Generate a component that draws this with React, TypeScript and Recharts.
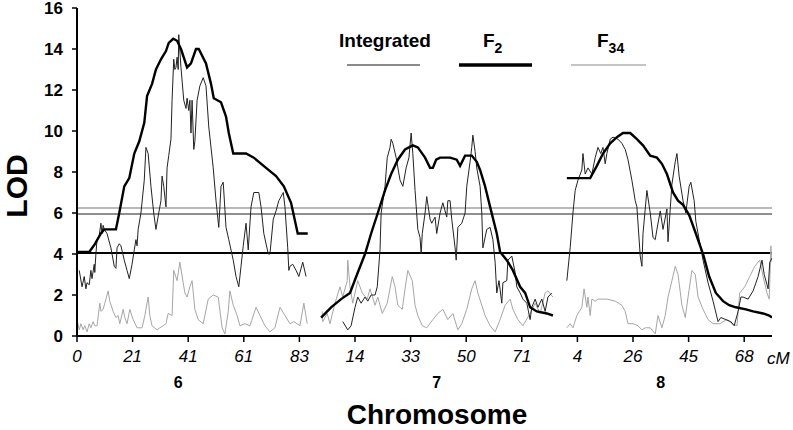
import React from "react";
import { LineChart, Line, XAxis, YAxis, ReferenceLine } from "recharts";

// ---- Data (x = marker-order position on the map axis, one unit per labelled tick; y = LOD) ----
const TICK_LABELS = ["0", "21", "41", "61", "83", "14", "33", "50", "71", "4", "26", "45", "68"];
const CHROMOSOMES = ["6", "7", "8"];
const CHROM_LABEL_POS = [1.82, 6.47, 10.5];
const SERIES_NAMES = ["Integrated", "F2", "F34"];
const THRESHOLD_F2 = 4.05;
const THRESHOLD_A = 6.24;
const THRESHOLD_B = 5.95;

const chr6F2: [number, number][] = [
  [0.0, 4.1], [0.22, 4.1], [0.31, 4.44], [0.43, 5.0], [0.49, 5.2], [0.7, 5.2], [0.76, 6.0], [0.85, 7.3],
  [0.94, 7.7], [1.03, 8.9], [1.12, 9.5], [1.21, 10.4], [1.26, 11.7], [1.35, 12.3], [1.42, 13.0], [1.51, 13.5],
  [1.6, 13.9], [1.65, 14.3], [1.73, 14.5], [1.8, 14.4], [1.87, 14.0], [1.98, 13.1], [2.05, 13.3], [2.14, 14.0],
  [2.19, 14.0], [2.32, 13.3], [2.41, 12.3], [2.46, 11.6], [2.59, 11.4], [2.68, 10.7], [2.73, 9.9], [2.81, 8.9],
  [3.04, 8.9], [3.18, 8.7], [3.4, 8.2], [3.58, 7.8], [3.72, 7.3], [3.85, 6.5], [3.97, 5.0], [4.15, 5.0],
];

const chr6Integrated: [number, number][] = [
  [0.04, 3.2], [0.09, 2.4], [0.13, 2.9], [0.16, 2.3], [0.18, 2.6], [0.22, 2.5], [0.25, 3.2], [0.27, 2.8],
  [0.31, 3.5], [0.32, 3.1], [0.34, 4.0], [0.36, 4.7], [0.4, 4.9], [0.43, 5.5], [0.45, 5.0], [0.47, 5.4],
  [0.49, 5.2], [0.54, 5.0], [0.61, 4.3], [0.67, 3.4], [0.7, 3.3], [0.72, 4.3], [0.76, 4.5], [0.79, 4.4],
  [0.85, 3.7], [0.9, 3.2], [0.94, 2.8], [0.99, 3.5], [1.03, 4.2], [1.06, 4.7], [1.08, 4.4], [1.1, 5.2],
  [1.15, 6.0], [1.21, 7.6], [1.24, 9.2], [1.28, 8.9], [1.33, 7.3], [1.38, 6.0], [1.42, 5.2], [1.47, 6.0],
  [1.51, 6.6], [1.53, 7.8], [1.56, 7.3], [1.6, 6.3], [1.62, 8.2], [1.65, 8.8], [1.69, 9.6], [1.71, 11.5],
  [1.74, 13.5], [1.76, 13.0], [1.78, 13.1], [1.8, 13.6], [1.82, 13.0], [1.83, 14.7], [1.87, 13.1], [1.92, 11.5],
  [1.96, 11.1], [1.98, 11.6], [2.01, 11.0], [2.03, 11.5], [2.05, 9.9], [2.07, 11.5], [2.1, 9.1], [2.12, 9.5],
  [2.16, 11.5], [2.21, 12.2], [2.27, 12.6], [2.32, 12.2], [2.37, 10.2], [2.45, 8.2], [2.5, 6.6], [2.55, 5.3],
  [2.59, 7.3], [2.63, 7.5], [2.68, 5.3], [2.73, 4.7], [2.81, 3.7], [2.86, 2.9], [2.91, 2.4], [2.95, 3.4],
  [2.99, 4.4], [3.04, 5.5], [3.08, 4.2], [3.13, 6.3], [3.18, 7.0], [3.27, 7.0], [3.31, 6.3], [3.36, 5.0],
  [3.44, 4.0], [3.47, 4.0], [3.53, 5.7], [3.58, 6.1], [3.63, 6.6], [3.71, 7.0], [3.74, 6.3], [3.79, 4.3],
  [3.81, 3.2], [3.83, 3.4], [3.88, 3.5], [3.94, 3.2], [3.99, 2.9], [4.06, 3.6], [4.12, 2.9],
];

const chr6F34: [number, number][] = [
  [0.0, 0.8], [0.04, 0.3], [0.07, 0.6], [0.11, 0.3], [0.14, 0.5], [0.18, 0.2], [0.22, 0.6], [0.25, 0.4],
  [0.29, 0.7], [0.32, 0.5], [0.36, 0.5], [0.41, 1.6], [0.43, 1.2], [0.47, 1.3], [0.5, 1.6], [0.56, 2.2],
  [0.59, 1.7], [0.65, 1.2], [0.7, 0.9], [0.74, 1.0], [0.77, 0.6], [0.83, 1.3], [0.86, 0.9], [0.9, 0.6],
  [0.95, 1.3], [1.01, 0.8], [1.08, 0.4], [1.17, 0.4], [1.22, 1.0], [1.28, 1.9], [1.31, 1.0], [1.35, 0.5],
  [1.44, 0.3], [1.49, 0.4], [1.55, 0.5], [1.6, 0.6], [1.64, 1.1], [1.71, 1.0], [1.74, 3.2], [1.8, 2.7],
  [1.85, 3.6], [1.91, 2.6], [1.94, 2.1], [1.98, 1.9], [2.03, 2.4], [2.07, 2.7], [2.12, 1.3], [2.18, 0.8],
  [2.27, 0.6], [2.36, 1.8], [2.45, 2.0], [2.54, 1.9], [2.61, 0.4], [2.66, 0.1], [2.72, 1.2], [2.75, 2.2],
  [2.81, 1.5], [2.88, 1.0], [2.93, 0.5], [3.02, 0.6], [3.11, 0.5], [3.22, 1.4], [3.29, 1.0], [3.38, 0.5],
  [3.47, 0.2], [3.56, 0.4], [3.65, 1.4], [3.74, 1.0], [3.83, 0.6], [3.9, 0.7], [4.01, 0.5], [4.08, 1.6],
  [4.14, 0.6],
];

const chr7F2: [number, number][] = [
  [4.39, 0.9], [4.57, 1.4], [4.75, 1.8], [4.91, 2.1], [5.05, 3.1], [5.18, 4.0], [5.29, 5.0], [5.41, 6.0],
  [5.54, 7.1], [5.65, 7.9], [5.77, 8.6], [5.9, 9.1], [6.04, 9.3], [6.13, 9.2], [6.26, 8.7], [6.35, 8.2],
  [6.4, 8.2], [6.46, 8.6], [6.53, 8.7], [6.71, 8.7], [6.83, 8.6], [6.89, 8.3], [6.98, 8.8], [7.1, 8.8],
  [7.19, 8.5], [7.25, 8.1], [7.34, 7.3], [7.43, 6.3], [7.55, 5.0], [7.61, 4.1], [7.73, 3.7], [7.84, 3.2],
  [7.97, 2.4], [8.06, 2.1], [8.15, 1.4], [8.27, 1.2], [8.45, 1.1], [8.56, 1.0],
];

const chr7Integrated: [number, number][] = [
  [4.78, 0.7], [4.87, 0.3], [4.93, 0.5], [5.0, 1.4], [5.05, 1.9], [5.11, 1.6], [5.18, 1.9], [5.23, 1.7],
  [5.29, 2.0], [5.36, 2.0], [5.4, 2.4], [5.45, 4.2], [5.47, 6.0], [5.54, 7.3], [5.58, 8.7], [5.63, 9.2],
  [5.65, 9.6], [5.68, 9.4], [5.74, 8.7], [5.81, 7.6], [5.86, 7.3], [5.92, 8.2], [5.97, 8.7], [6.01, 9.9],
  [6.04, 8.9], [6.08, 7.1], [6.13, 5.2], [6.17, 4.8], [6.19, 4.0], [6.21, 5.0], [6.26, 6.0], [6.29, 6.8],
  [6.35, 5.7], [6.38, 5.5], [6.44, 5.8], [6.47, 5.0], [6.53, 6.0], [6.58, 6.5], [6.65, 5.8], [6.67, 6.6],
  [6.71, 6.6], [6.74, 5.7], [6.8, 4.3], [6.82, 3.7], [6.85, 5.3], [6.92, 5.5], [6.98, 6.0], [7.01, 7.3],
  [7.07, 8.5], [7.1, 9.2], [7.12, 9.8], [7.16, 9.0], [7.19, 8.2], [7.25, 7.3], [7.28, 6.0], [7.3, 4.3],
  [7.37, 5.2], [7.43, 5.3], [7.48, 4.7], [7.52, 3.6], [7.55, 2.1], [7.59, 2.7], [7.64, 1.6], [7.66, 2.6],
  [7.73, 2.7], [7.75, 3.7], [7.82, 3.9], [7.88, 3.1], [7.91, 2.4], [7.97, 2.1], [8.02, 1.8], [8.09, 1.6],
  [8.15, 0.8], [8.18, 1.4], [8.24, 1.8], [8.29, 1.4], [8.36, 1.8], [8.42, 1.2], [8.47, 1.9], [8.54, 2.1],
];

const chr7F34: [number, number][] = [
  [4.41, 1.2], [4.42, 0.7], [4.5, 1.1], [4.55, 0.6], [4.64, 1.6], [4.73, 2.4], [4.78, 1.9], [4.86, 2.7],
  [4.87, 3.7], [4.91, 2.4], [4.96, 1.6], [5.05, 2.7], [5.13, 2.1], [5.22, 1.8], [5.27, 2.3], [5.36, 1.5],
  [5.41, 1.9], [5.49, 1.1], [5.58, 1.6], [5.67, 2.9], [5.72, 2.4], [5.77, 1.5], [5.85, 1.3], [5.9, 2.3],
  [5.95, 3.2], [6.03, 2.7], [6.08, 1.5], [6.13, 1.0], [6.21, 0.5], [6.29, 0.4], [6.4, 0.8], [6.49, 1.1],
  [6.58, 1.3], [6.67, 0.8], [6.76, 1.1], [6.85, 0.3], [6.92, 0.6], [7.01, 1.3], [7.1, 2.3], [7.16, 2.7],
  [7.21, 2.1], [7.28, 1.5], [7.34, 1.0], [7.43, 0.5], [7.52, 0.2], [7.61, 0.8], [7.7, 1.5], [7.79, 1.8],
  [7.84, 1.3], [7.93, 0.8], [8.02, 0.5], [8.15, 1.1], [8.24, 1.6], [8.33, 1.1], [8.42, 2.1], [8.47, 2.2],
  [8.56, 1.9],
];

const chr8F2: [number, number][] = [
  [8.81, 7.7], [9.23, 7.7], [9.35, 8.3], [9.46, 8.9], [9.59, 9.4], [9.71, 9.7], [9.82, 9.9], [9.95, 9.9],
  [10.07, 9.6], [10.18, 9.3], [10.31, 8.8], [10.43, 8.7], [10.52, 8.4], [10.61, 7.9], [10.72, 7.0], [10.81, 6.6],
  [10.9, 6.4], [11.01, 5.9], [11.13, 5.0], [11.26, 4.0], [11.37, 2.9], [11.49, 2.1], [11.62, 1.7], [11.73, 1.5],
  [11.85, 1.4], [12.03, 1.3], [12.16, 1.2], [12.34, 1.1], [12.45, 1.0], [12.5, 0.9],
];

const chr8Integrated: [number, number][] = [
  [8.81, 2.7], [8.87, 4.3], [8.92, 6.0], [8.96, 7.1], [9.01, 7.6], [9.08, 8.1], [9.1, 8.9], [9.14, 7.9],
  [9.19, 8.2], [9.26, 7.9], [9.32, 8.7], [9.37, 9.2], [9.42, 8.9], [9.46, 9.2], [9.5, 8.4], [9.53, 8.9],
  [9.59, 9.6], [9.64, 9.7], [9.73, 9.6], [9.8, 9.4], [9.86, 9.1], [9.91, 8.6], [9.98, 7.6], [10.04, 6.6],
  [10.07, 6.3], [10.13, 3.9], [10.16, 3.4], [10.18, 5.0], [10.25, 7.1], [10.31, 6.0], [10.36, 4.8], [10.4, 4.7],
  [10.43, 5.2], [10.49, 6.1], [10.54, 5.2], [10.61, 6.2], [10.63, 4.6], [10.7, 7.4], [10.76, 8.5], [10.79, 8.9],
  [10.83, 7.8], [10.9, 6.6], [10.95, 6.0], [11.01, 7.3], [11.04, 7.5], [11.1, 6.6], [11.13, 5.6], [11.19, 4.7],
  [11.26, 3.7], [11.35, 2.6], [11.44, 1.7], [11.53, 0.7], [11.58, 0.9], [11.67, 0.8], [11.76, 0.7], [11.82, 0.5],
  [11.89, 1.2], [11.94, 1.9], [11.98, 1.9], [12.07, 1.8], [12.16, 2.2], [12.25, 2.9], [12.32, 3.7], [12.36, 3.0],
  [12.41, 2.5], [12.43, 2.3], [12.46, 3.6], [12.5, 3.8],
];

const chr8F34: [number, number][] = [
  [8.81, 0.4], [8.87, 0.6], [8.92, 0.4], [8.99, 1.0], [9.08, 1.4], [9.12, 2.3], [9.17, 1.4], [9.19, 1.9],
  [9.23, 1.0], [9.26, 1.8], [9.32, 1.7], [9.37, 1.8], [9.53, 1.8], [9.68, 1.7], [9.8, 1.5], [9.86, 1.2],
  [9.91, 0.6], [10.0, 0.6], [10.09, 0.5], [10.16, 0.3], [10.22, 0.4], [10.31, 0.4], [10.4, 0.1], [10.45, 1.0],
  [10.52, 0.4], [10.58, 1.0], [10.63, 1.9], [10.7, 2.7], [10.76, 3.4], [10.81, 3.0], [10.88, 1.5], [10.94, 0.9],
  [10.99, 1.9], [11.06, 3.2], [11.12, 3.0], [11.17, 1.9], [11.26, 1.3], [11.35, 0.8], [11.44, 0.6], [11.56, 0.6],
  [11.69, 0.8], [11.78, 0.6], [11.87, 0.5], [11.92, 2.1], [12.01, 2.4], [12.1, 2.9], [12.19, 3.4], [12.28, 3.7],
  [12.34, 2.9], [12.41, 2.1], [12.45, 1.8], [12.48, 4.4], [12.5, 3.6],
];

// ---- helpers ----
const rows = (arr: [number, number][]) => arr.map(([x, lod]) => ({ x, lod }));
const TICK_POS = TICK_LABELS.map((_, i) => i);

const FONT = "'Liberation Sans', Arial, Helvetica, sans-serif";
const W = 793;
const H = 430;
const PLOT_LEFT = 77;
const PLOT_RIGHT = 772;
const X_MAX = 12.5;
const toPx = (x: number) => PLOT_LEFT + (x / X_MAX) * (PLOT_RIGHT - PLOT_LEFT);

const COLORS = { Integrated: "#222222", F2: "#000000", F34: "#a6a6a6" };

const segments = [
  { name: "F34", data: chr6F34 }, { name: "F34", data: chr7F34 }, { name: "F34", data: chr8F34 },
  { name: "Integrated", data: chr6Integrated }, { name: "Integrated", data: chr7Integrated }, { name: "Integrated", data: chr8Integrated },
  { name: "F2", data: chr6F2 }, { name: "F2", data: chr7F2 }, { name: "F2", data: chr8F2 },
];

const YTick = (props: any) => {
  const { x, y, payload } = props;
  return (
    <text x={x} y={y} dy={6} textAnchor="end" fontSize={17} fontWeight="bold" fill="#000" fontFamily={FONT}>
      {payload.value}
    </text>
  );
};

export default function App() {
  return (
    <div style={{ position: "absolute", left: 0, top: 0, width: W, height: H, background: "#fff", fontFamily: FONT }}>
      <LineChart width={W} height={H} margin={{ top: 8, right: W - PLOT_RIGHT, left: PLOT_LEFT - 60, bottom: 64 }}>
        <XAxis
          type="number"
          dataKey="x"
          domain={[0, X_MAX]}
          ticks={TICK_POS}
          interval={0}
          allowDataOverflow
          height={30}
          tickFormatter={(v: number) => TICK_LABELS[v] ?? ""}
          tick={{ fontSize: 17, fontStyle: "italic", fill: "#000", fontFamily: FONT }}
          tickSize={6}
          tickMargin={8}
          axisLine={{ stroke: "#000", strokeWidth: 2 }}
          tickLine={{ stroke: "#000", strokeWidth: 1.5 }}
        />
        <YAxis
          type="number"
          domain={[0, 16]}
          ticks={[0, 2, 4, 6, 8, 10, 12, 14, 16]}
          interval={0}
          width={60}
          tick={<YTick />}
          tickSize={5}
          tickMargin={9}
          axisLine={{ stroke: "#000", strokeWidth: 2 }}
          tickLine={{ stroke: "#000", strokeWidth: 1.5 }}
        />
        <ReferenceLine y={THRESHOLD_A} stroke="#b9b9b9" strokeWidth={2} />
        <ReferenceLine y={THRESHOLD_B} stroke="#8f8f8f" strokeWidth={2} />
        <ReferenceLine y={THRESHOLD_F2} stroke="#000" strokeWidth={2} />
        {segments.map((s, i) => (
          <Line
            key={i}
            data={rows(s.data)}
            dataKey="lod"
            name={s.name}
            type="linear"
            stroke={COLORS[s.name as keyof typeof COLORS]}
            strokeWidth={s.name === "F2" ? 2.4 : 1}
            dot={false}
            activeDot={false}
            isAnimationActive={false}
          />
        ))}
      </LineChart>
      <svg width={W} height={H} style={{ position: "absolute", left: 0, top: 0, pointerEvents: "none" }} fontFamily={FONT}>
        {/* legend */}
        <text x={385} y={47} fontSize={19} fontWeight="bold" textAnchor="middle">{SERIES_NAMES[0]}</text>
        <line x1={347} x2={420} y1={65} y2={65} stroke="#8a8a8a" strokeWidth={2} />
        <text x={483} y={47} fontSize={19} fontWeight="bold">F<tspan fontSize={14} dy={6}>2</tspan></text>
        <line x1={459} x2={532} y1={65} y2={65} stroke="#000" strokeWidth={3.5} />
        <text x={597} y={47} fontSize={19} fontWeight="bold">F<tspan fontSize={14} dy={6}>34</tspan></text>
        <line x1={571} x2={646} y1={65} y2={65} stroke="#c4c4c4" strokeWidth={2} />
        {/* chromosome labels */}
        {CHROMOSOMES.map((c, i) => (
          <text key={c} x={toPx(CHROM_LABEL_POS[i])} y={388} fontSize={16} fontWeight="bold" textAnchor="middle">{c}</text>
        ))}
        <text x={767} y={364} fontSize={17} fontStyle="italic">cM</text>
        <text x={437} y={424} fontSize={28} fontWeight="bold" textAnchor="middle">Chromosome</text>
        <text x={16} y={186} fontSize={30} fontWeight="bold" textAnchor="middle" dominantBaseline="central" transform="rotate(-90 16 186)">LOD</text>
      </svg>
    </div>
  );
}
